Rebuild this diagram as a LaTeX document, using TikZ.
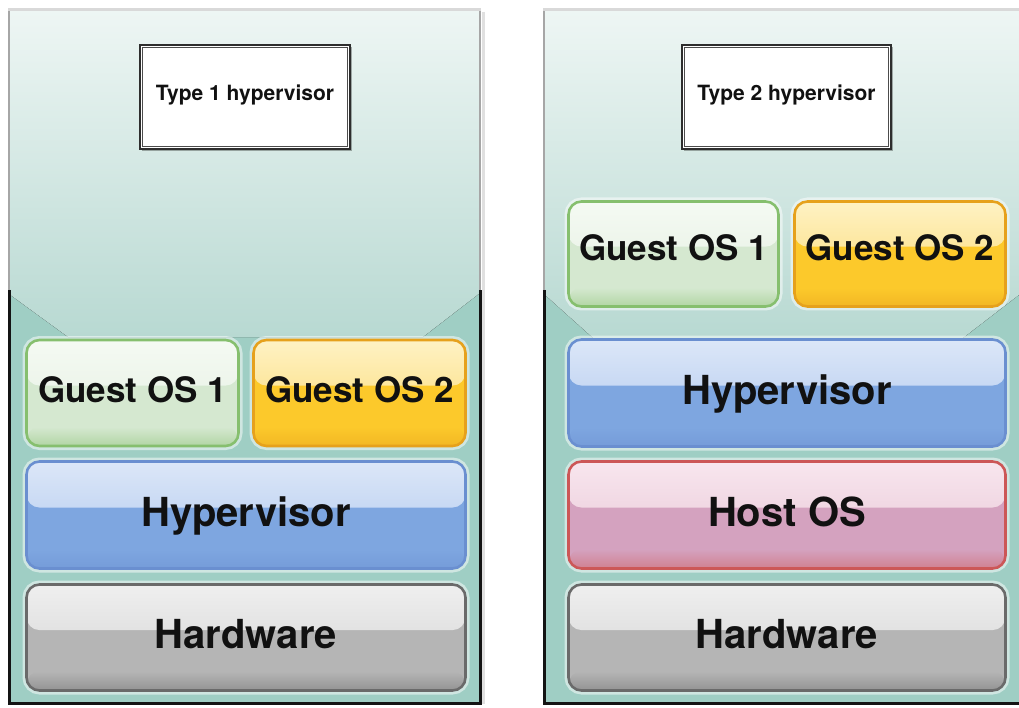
\documentclass[tikz,border=0pt]{standalone}
\usepackage{fontspec}
\setmainfont{TeX Gyre Heros}
\usetikzlibrary{calc,shadows}
\definecolor{floorc}{HTML}{9FCEC4}
\definecolor{gradtop}{HTML}{EEF6F4}
\definecolor{gradbot}{HTML}{B8D9D2}
\definecolor{textc}{HTML}{111111}
\definecolor{gTop}{HTML}{F5FAF3}\definecolor{gMid}{HTML}{E2EEDF}\definecolor{gLow}{HTML}{D5E8D0}\definecolor{gBrd}{HTML}{86BF6E}
\definecolor{yTop}{HTML}{FEF2C4}\definecolor{yMid}{HTML}{FCD86C}\definecolor{yLow}{HTML}{FCC92B}\definecolor{yBrd}{HTML}{E6A11C}
\definecolor{bTop}{HTML}{DCE7F8}\definecolor{bMid}{HTML}{ADC6EE}\definecolor{bLow}{HTML}{7EA6E0}\definecolor{bBrd}{HTML}{6A8FD0}
\definecolor{pTop}{HTML}{F8E6EE}\definecolor{pMid}{HTML}{E6C4D4}\definecolor{pLow}{HTML}{D4A2BF}\definecolor{pBrd}{HTML}{CC5757}
\definecolor{hTop}{HTML}{EFEFEF}\definecolor{hMid}{HTML}{D2D2D2}\definecolor{hLow}{HTML}{B5B5B5}\definecolor{hBrd}{HTML}{6A6A6A}
\tikzset{
  glossy/.style n args={4}{fill=#3, draw=#4,
    path picture={
      \fill[top color=#1, bottom color=#2]
        (path picture bounding box.north west) rectangle
        ($(path picture bounding box.north east)!0.43!(path picture bounding box.south east)$);
      \fill[top color=#3, bottom color=#4!45!#3]
        ($(path picture bounding box.north west)!0.82!(path picture bounding box.south west)$) rectangle
        (path picture bounding box.south east);
    }},
  layer/.style={rectangle, rounded corners=13pt, line width=2.6pt, inner sep=0pt,
    text height=28.8pt, text depth=6pt, text=textc,
    font=\bfseries\fontsize{40}{48}\selectfont,
    preaction={draw=white, draw opacity=0.5, line width=8pt, fill=none}},
  guest/.style={layer, text height=25.2pt, font=\bfseries\fontsize{35}{42}\selectfont},
  gbox/.style={glossy={gTop}{gMid}{gLow}{gBrd}},
  ybox/.style={glossy={yTop}{yMid}{yLow}{yBrd}},
  bbox/.style={glossy={bTop}{bMid}{bLow}{bBrd}},
  pbox/.style={glossy={pTop}{pMid}{pLow}{pBrd}},
  hbox/.style={glossy={hTop}{hMid}{hLow}{hBrd}},
  titlebox/.style={rectangle, draw=black!82, line width=1.8pt, fill=white, inner sep=0pt,
    text=textc, text height=15.1pt, text depth=9pt,
    font=\bfseries\fontsize{21}{25}\selectfont,
    drop shadow={shadow xshift=1.5pt, shadow yshift=-2.5pt, opacity=0.3, fill=black}},
  innerline/.style={draw=black!70, line width=0.9pt},
  blackedge/.style={line width=3pt, draw=black!92},
  grayedge/.style={line width=2.5pt, draw=black!35},
  topedge/.style={line width=3pt, draw=black!15},
}
\begin{document}
\begin{tikzpicture}[x=1pt,y=-1pt]
\useasboundingbox (0,0) rectangle (1019,708);
\clip (0,0) rectangle (1019,708);
\fill[white] (0,0) rectangle (1019,708);
% ---------- left panel ----------
\fill[floorc] (9,10) rectangle (480,703);
\fill[top color=gradtop, bottom color=gradbot]
  (9,10) -- (480,10) -- (480,293) -- (423,337) -- (68,337) -- (9,294) -- cycle;
\draw[black!12, line width=3pt] (483,12) -- (483,704);
\draw[topedge] (8,9.5) -- (481,9.5);
\draw[grayedge] (9,11) -- (9,290);
\draw[grayedge] (480,11) -- (480,290);
\draw[blackedge] (9,290) -- (9,703.5) -- (480,703.5) -- (480,290);
% ---------- right panel ----------
\fill[floorc] (544,10) rectangle (1024,703);
\fill[top color=gradtop, bottom color=gradbot]
  (544,10) -- (1024,10) -- (1024,291) -- (963,338) -- (593,338) -- (544,294) -- cycle;
\draw[topedge] (543,9.5) -- (1024,9.5);
\draw[grayedge] (544,11) -- (544,290);
\draw[blackedge] (544,290) -- (544,703.5) -- (1024,703.5);
% ---------- title boxes ----------
\node[titlebox, minimum width=210pt, minimum height=104pt] (t1) at (245,97) {Type 1 hypervisor};
\draw[innerline] ([shift={(3.8pt,-3.8pt)}]t1.north west) rectangle ([shift={(-3.8pt,3.8pt)}]t1.south east);
\node[titlebox, minimum width=209pt, minimum height=104pt] (t2) at (786.5,97) {Type 2 hypervisor};
\draw[innerline] ([shift={(3.8pt,-3.8pt)}]t2.north west) rectangle ([shift={(-3.8pt,3.8pt)}]t2.south east);
% ---------- left stack ----------
\node[guest, gbox, minimum width=212pt, minimum height=106pt] (g1L) at (132.5,393) {Guest OS 1};
\node[guest, ybox, minimum width=212pt, minimum height=106pt] (g2L) at (359.5,393) {Guest OS 2};
\node[layer, bbox, minimum width=439pt, minimum height=107pt] (hvL) at (246,515) {Hypervisor};
\node[layer, hbox, minimum width=439pt, minimum height=106pt] (hwL) at (246,637.5) {Hardware};
% ---------- right stack ----------
\node[guest, gbox, minimum width=210pt, minimum height=105pt, text depth=13pt] (g1R) at (673.5,254) {Guest OS 1};
\node[guest, ybox, minimum width=211pt, minimum height=105pt, text depth=13pt] (g2R) at (900,254) {Guest OS 2};
\node[layer, bbox, minimum width=437pt, minimum height=107pt] (hvR) at (787,393) {Hypervisor};
\node[layer, pbox, minimum width=437pt, minimum height=107pt] (hoR) at (787,515) {Host OS};
\node[layer, hbox, minimum width=437pt, minimum height=106pt] (hwR) at (787,637.5) {Hardware};
\end{tikzpicture}
\end{document}
